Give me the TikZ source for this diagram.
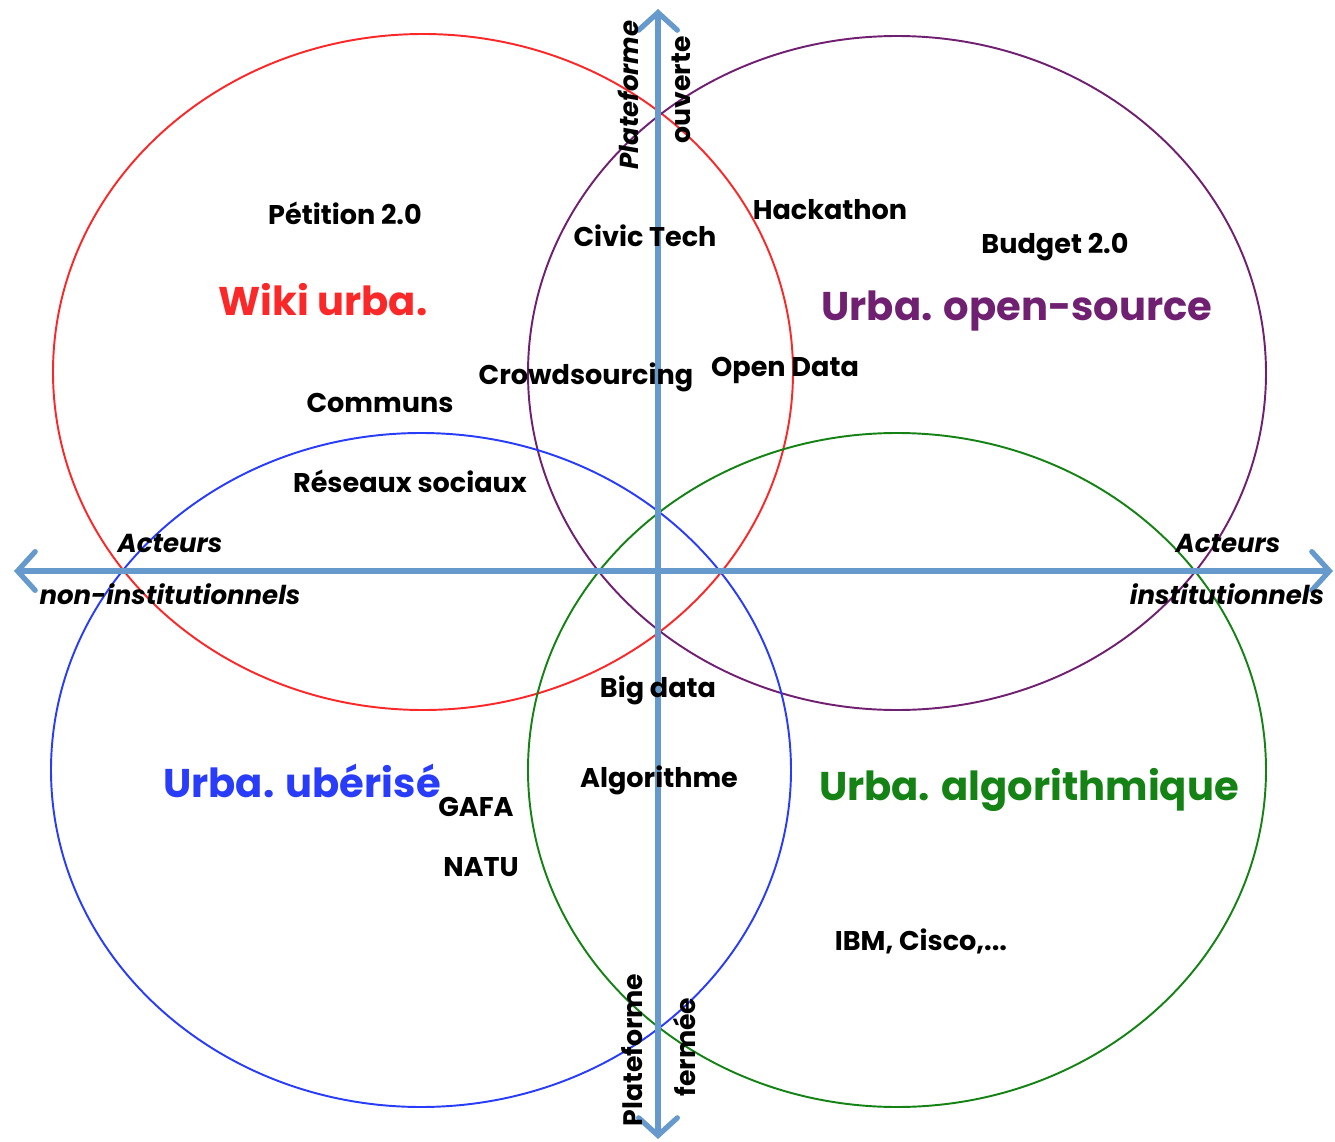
\documentclass[tikz,border=0pt]{standalone}
\usepackage{fontspec}
\setmainfont{Poppins}
\usetikzlibrary{arrows.meta}
\definecolor{axisblue}{RGB}{102,153,204}
\definecolor{cred}{RGB}{250,40,40}
\definecolor{cpurple}{RGB}{112,32,112}
\definecolor{cblue}{RGB}{40,60,250}
\definecolor{cgreen}{RGB}{20,130,20}
\tikzset{
  circ/.style={line width=0.55pt},
  axis/.style={draw=axisblue,line width=1.5pt,-{Straight Barb[length=5pt,width=11pt,line cap=round]}},
  lbl/.style={font=\bfseries\fontsize{7.7}{9}\selectfont,inner sep=0pt},
  ttl/.style={font=\bfseries\fontsize{11.4}{13}\selectfont,inner sep=0pt},
  ax/.style={font=\bfseries\itshape\fontsize{7.4}{9}\selectfont,inner sep=0pt},
  axu/.style={font=\bfseries\fontsize{7.6}{9}\selectfont,inner sep=0pt},
}
\begin{document}
\begin{tikzpicture}[x=0.01cm,y=-0.01cm]
\useasboundingbox (0,0) rectangle (1335,1142);
% ellipses
\draw[circ,cred] (423,372) ellipse [x radius=370,y radius=338];
\draw[circ,cpurple] (897,373) ellipse [x radius=369,y radius=337];
\draw[circ,cblue] (421,770) ellipse [x radius=370,y radius=337];
\draw[circ,cgreen] (897,770) ellipse [x radius=369,y radius=337];
% axes
\coordinate (o) at (658,571);
\coordinate (xl) at (14,571);
\coordinate (xr) at (1333,571);
\coordinate (yt) at (658,9);
\coordinate (yb) at (658,1139);
\draw[axis] (o) -- (xl);
\draw[axis] (o) -- (xr);
\draw[axis] (o) -- (yt);
\draw[axis] (o) -- (yb);
% axis labels
\node[ax,rotate=90] (pt) at (628,95) {Plateforme};
\node[axu,rotate=90] (ov) at (681,90) {ouverte};
\node[axu,rotate=90] (pb) at (632,1050) {Plateforme};
\node[axu,rotate=90] (fe) at (684,1047) {fermée};
\node[ax] (al) at (170,543) {Acteurs};
\node[ax] (nl) at (170,594) {non-institutionnels};
\node[ax] (ar) at (1228,543) {Acteurs};
\node[ax] (ir) at (1227,594) {institutionnels};
% labels
\node[lbl] (n1) at (345,213) {Pétition 2.0};
\node[ttl,text=cred] (t1) at (323,300) {Wiki urba.};
\node[lbl] (n2) at (645,236) {Civic Tech};
\node[lbl] (n3) at (830,210) {Hackathon};
\node[lbl] (n4) at (1055,247) {Budget 2.0};
\node[ttl,text=cpurple] (t2) at (1017,311) {Urba. open-source};
\node[lbl] (n5) at (586,377) {Crowdsourcing};
\node[lbl] (n6) at (785,370) {Open Data};
\node[lbl] (n7) at (380,403) {Communs};
\node[lbl] (n8) at (410,481) {Réseaux sociaux};
\node[lbl] (n9) at (658,690) {Big data};
\node[ttl,text=cblue] (t3) at (302,781) {Urba. ubérisé};
\node[lbl] (n10) at (476,807) {GAFA};
\node[lbl] (n11) at (659,780) {Algorithme};
\node[ttl,text=cgreen] (t4) at (1029,790) {Urba. algorithmique};
\node[lbl] (n12) at (481,867) {NATU};
\node[lbl] (n13) at (921,941) {IBM, Cisco,...};
\end{tikzpicture}
\end{document}
